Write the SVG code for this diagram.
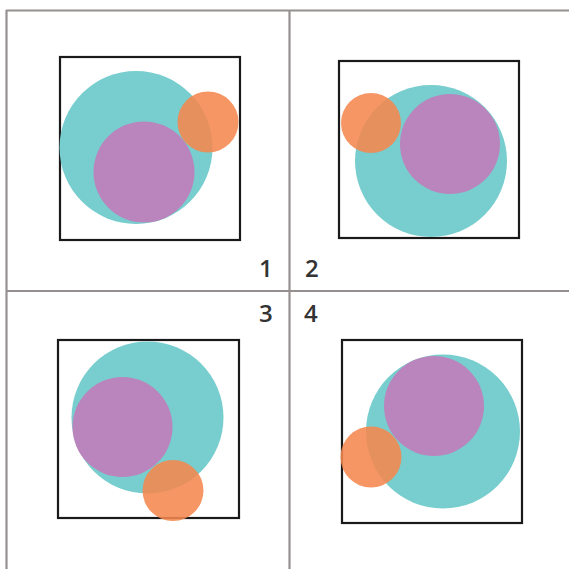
<svg xmlns="http://www.w3.org/2000/svg" width="569" height="569" viewBox="0 0 569 569">
<style>
.grid{stroke:#958f90;stroke-width:2.2;fill:none}
.box{fill:none;stroke:#1a1a1a;stroke-width:2.2}
.teal{fill:#78cdce}
.purple{fill:#b985bc}
.orange{fill:#f5874f;fill-opacity:0.88}
.lbl{font-family:"Open Sans","Liberation Sans",Arial,sans-serif;font-size:24px;font-weight:600;fill:#333333}
</style>
<rect width="569" height="569" fill="#ffffff"/>
<g id="grid">
<line class="grid" x1="6" y1="10.5" x2="569" y2="10.5"/>
<line class="grid" x1="6.5" y1="10" x2="6.5" y2="569"/>
<line class="grid" x1="289.5" y1="10" x2="289.5" y2="569"/>
<line class="grid" x1="6" y1="291" x2="569" y2="291"/>
</g>
<g id="panel1">
<rect class="box" x="60" y="57" width="180" height="183"/>
<circle class="teal" cx="136" cy="147.5" r="76.5"/>
<circle class="purple" cx="144" cy="172" r="50.5"/>
<circle class="orange" cx="208" cy="122" r="30.5"/>
<text class="lbl" x="259" y="277">1</text>
</g>
<g id="panel2">
<rect class="box" x="339" y="61" width="180" height="177"/>
<circle class="teal" cx="431" cy="161" r="76"/>
<circle class="purple" cx="450" cy="144" r="50"/>
<circle class="orange" cx="371" cy="123" r="30"/>
<text class="lbl" x="305" y="277">2</text>
</g>
<g id="panel3">
<rect class="box" x="58" y="340" width="181" height="178"/>
<circle class="teal" cx="147.5" cy="417.5" r="76"/>
<circle class="purple" cx="122.5" cy="427" r="50"/>
<circle class="orange" cx="173" cy="490.5" r="30.5"/>
<text class="lbl" x="259" y="322">3</text>
</g>
<g id="panel4">
<rect class="box" x="342" y="340" width="180" height="183"/>
<circle class="teal" cx="443" cy="431.5" r="77"/>
<circle class="purple" cx="434" cy="406" r="50"/>
<circle class="orange" cx="371" cy="457" r="30.5"/>
<text class="lbl" x="304" y="322">4</text>
</g>
</svg>
